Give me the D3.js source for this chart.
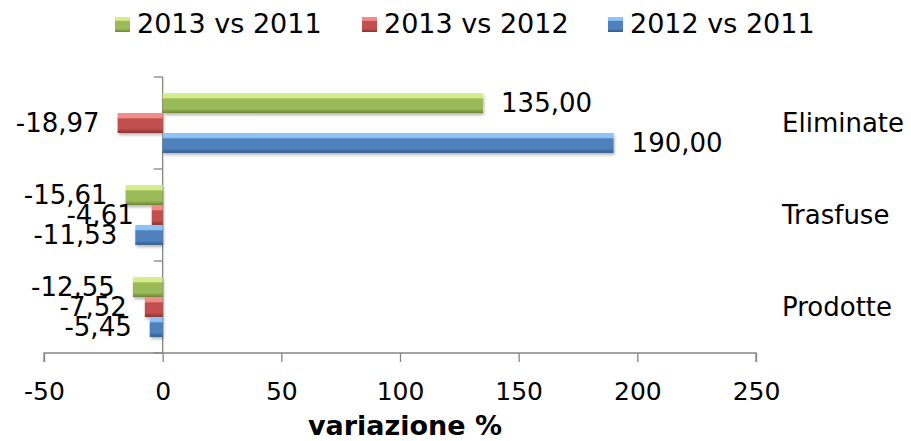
<!DOCTYPE html>
<html>
<head>
<meta charset="utf-8">
<script src="https://d3js.org/d3.v7.min.js"></script>
<style>
  body { margin: 0; background: #fff; }
  svg { display: block; font-family: "DejaVu Sans", Verdana, sans-serif; }
</style>
</head>
<body>
<svg id="chart" width="911" height="441"></svg>
<script>
// categories from top to bottom
var categories = ["Eliminate", "Trasfuse", "Prodotte"];
var seriesNames = ["2013 vs 2011", "2013 vs 2012", "2012 vs 2011"];
var v2013vs2011 = [135.00, -15.61, -12.55];
var v2013vs2012 = [-18.97, -4.61, -7.52];
var v2012vs2011 = [190.00, -11.53, -5.45];
var xTicks = [-50, 0, 50, 100, 150, 200, 250];

var palette = [
    {light: "#d4ec8c", mid: "#9bbb59", dark: "#6b8533"},
    {light: "#f08c89", mid: "#c0504d", dark: "#8a2f2c"},
    {light: "#8fc3f5", mid: "#4f81bd", dark: "#2f5a8e"}
];

var seriesValues = [v2013vs2011, v2013vs2012, v2012vs2011];
var rows = [];
categories.forEach(function(c, i) {
    seriesNames.forEach(function(s, j) {
        rows.push({cat: c, series: s, idx: j, value: seriesValues[j][i]});
    });
});

var svg = d3.select('#chart');
var defs = svg.append('defs');

palette.forEach(function(p, i) {
    var g = defs.append('linearGradient')
        .attr('id', 'grad' + i)
        .attr('x1', 0).attr('y1', 0).attr('x2', 0).attr('y2', 1);
    g.append('stop').attr('offset', '0%').attr('stop-color', p.light);
    g.append('stop').attr('offset', '22%').attr('stop-color', p.light);
    g.append('stop').attr('offset', '30%').attr('stop-color', p.mid);
    g.append('stop').attr('offset', '78%').attr('stop-color', p.mid);
    g.append('stop').attr('offset', '100%').attr('stop-color', p.dark);
});

var shadow = defs.append('filter').attr('id', 'shadow')
    .attr('x', '-10%').attr('y', '-30%').attr('width', '130%').attr('height', '180%');
shadow.append('feDropShadow')
    .attr('dx', 1).attr('dy', 2).attr('stdDeviation', 1.5)
    .attr('flood-color', '#000').attr('flood-opacity', 0.3);

var xScale = d3.scaleLinear().domain([-50, 250]).range([44, 756]);
var yScale = d3.scaleBand().domain(categories).range([77, 353])
    .paddingInner(0.35).paddingOuter(0.175);
var inner = d3.scaleBand().domain(seriesNames).range([0, yScale.bandwidth()]);

var axisColor = "#868686";

// x axis
var xAxis = d3.axisBottom(xScale).tickValues(xTicks).tickSize(9).tickPadding(20)
    .tickFormat(d3.format('d'));
var gx = svg.append('g').attr('transform', 'translate(0,353)').call(xAxis)
    .attr('font-family', '"DejaVu Sans", Verdana, sans-serif')
    .attr('font-size', 25);
gx.select('.domain').attr('stroke', axisColor).attr('stroke-width', 1.3)
    .attr('d', 'M' + xScale(-50) + ',9V0H' + xScale(250) + 'V9');
gx.selectAll('.tick line').attr('stroke', axisColor).attr('stroke-width', 1.3);
gx.selectAll('.tick text').attr('fill', '#000')
    .text(function(d) { return d < 0 ? '-' + Math.abs(d) : d; });

// vertical category axis at zero
var catEdges = [77, 169, 261, 353];
svg.append('line')
    .attr('x1', xScale(0)).attr('x2', xScale(0))
    .attr('y1', 77).attr('y2', 353)
    .attr('stroke', axisColor).attr('stroke-width', 1.3);
svg.selectAll('.cat-tick').data(catEdges).enter().append('line')
    .attr('class', 'cat-tick')
    .attr('x1', xScale(0) - 9).attr('x2', xScale(0))
    .attr('y1', function(d) { return d; }).attr('y2', function(d) { return d; })
    .attr('stroke', axisColor).attr('stroke-width', 1.3);

// bars
svg.append('g').selectAll('rect').data(rows).enter().append('rect')
    .attr('x', function(d) { return xScale(Math.min(0, d.value)); })
    .attr('width', function(d) { return Math.abs(xScale(d.value) - xScale(0)); })
    .attr('y', function(d) { return yScale(d.cat) + inner(d.series); })
    .attr('height', inner.bandwidth())
    .attr('fill', function(d) { return 'url(#grad' + d.idx + ')'; })
    .attr('filter', 'url(#shadow)');

// data labels
var fmt = function(v) { return d3.format('.2f')(v).replace('.', ',').replace('−', '-'); };
svg.append('g').selectAll('text').data(rows).enter().append('text')
    .attr('x', function(d) { return d.value >= 0 ? xScale(d.value) + 18 : xScale(d.value) - 18; })
    .attr('y', function(d) { return yScale(d.cat) + inner(d.series) + inner.bandwidth() / 2 + 9; })
    .attr('text-anchor', function(d) { return d.value >= 0 ? 'start' : 'end'; })
    .style('font-size', '26px')
    .attr('fill', '#000')
    .text(function(d) { return fmt(d.value); });

// category labels on the right
svg.append('g').selectAll('text').data(categories).enter().append('text')
    .attr('x', 782)
    .attr('y', function(d) { return yScale(d) + yScale.bandwidth() / 2 + 9; })
    .style('font-size', '26px')
    .attr('fill', '#000')
    .text(function(d) { return d; });

// axis title
svg.append('text')
    .attr('x', 405).attr('y', 435)
    .attr('text-anchor', 'middle')
    .style('font-size', '27px').style('font-weight', 'bold')
    .text('variazione %');

// legend
var legendX = [115, 362, 608];
var legend = svg.append('g').selectAll('g').data(seriesNames).enter().append('g')
    .attr('transform', function(d, i) { return 'translate(' + legendX[i] + ',0)'; });
legend.append('rect')
    .attr('x', 0).attr('y', 17).attr('width', 15).attr('height', 15)
    .attr('fill', function(d, i) { return 'url(#grad' + i + ')'; });
legend.append('text')
    .attr('x', 22).attr('y', 33)
    .style('font-size', '27px')
    .attr('fill', '#000')
    .text(function(d) { return d; });
</script>
</body>
</html>
